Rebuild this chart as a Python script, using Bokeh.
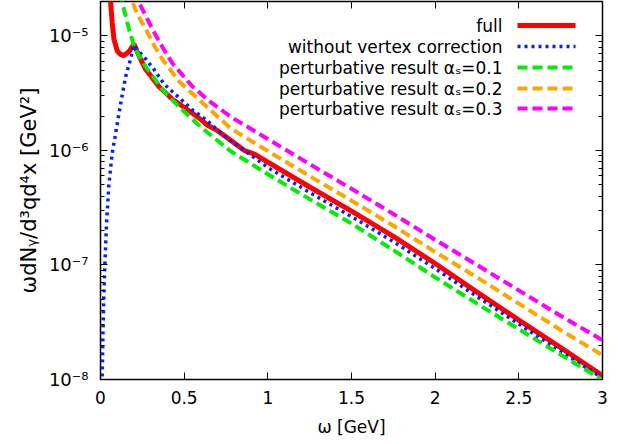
from bokeh.plotting import figure
from bokeh.models import (Range1d, FixedTicker, LogTicker, LinearAxis, LogAxis,
                          CustomJSTickFormatter, Label, Arrow)
from bokeh.embed import file_html
from bokeh.resources import INLINE

# ---- data ----
omega_full = [0.05, 0.06, 0.07, 0.08, 0.1, 0.12, 0.14, 0.17, 0.2, 0.23, 0.27, 0.3,
              0.35, 0.43, 0.54, 0.6, 0.64, 0.7, 0.78, 0.86, 0.92, 1.0, 1.25, 1.5,
              1.75, 2.0, 2.25, 2.5, 2.75, 3.0]
rate_full = [3.5e-5, 2.0e-5, 1.3e-5, 9.4e-6, 7.4e-6, 6.9e-6, 6.75e-6, 7.3e-6, 8.5e-6,
             6.7e-6, 5.1e-6, 4.5e-6, 3.6e-6, 2.8e-6, 2.17e-6, 1.86e-6, 1.66e-6, 1.49e-6,
             1.22e-6, 1.0e-6, 9.3e-7, 7.9e-7, 4.8e-7, 2.95e-7, 1.78e-7, 1.03e-7, 5.8e-8,
             3.3e-8, 1.9e-8, 1.08e-8]

omega_nv = [0.004, 0.01, 0.014, 0.02, 0.026, 0.036, 0.05, 0.07, 0.09, 0.12, 0.15, 0.18,
            0.2, 0.23, 0.27, 0.32, 0.38, 0.45, 0.55, 0.63, 0.75, 0.86, 1.0, 1.25, 1.5,
            1.75, 2.0, 2.25, 2.5, 2.75, 3.0]
rate_nv = [3e-9, 1.04e-8, 2.3e-8, 5.4e-8, 1.0e-7, 2.3e-7, 5.0e-7, 9.5e-7, 1.4e-6, 2.55e-6,
           4.4e-6, 6.3e-6, 8.3e-6, 7.3e-6, 6.3e-6, 5.1e-6, 3.8e-6, 3.07e-6, 2.26e-6,
           1.86e-6, 1.3e-6, 1.0e-6, 7.1e-7, 4.3e-7, 2.65e-7, 1.6e-7, 9.3e-8, 5.3e-8,
           3.05e-8, 1.76e-8, 1.03e-8]

omega_p1 = [0.12, 0.13, 0.15, 0.17, 0.2, 0.23, 0.27, 0.32, 0.37, 0.47, 0.6, 0.78, 1.0,
            1.25, 1.5, 1.75, 2.0, 2.25, 2.5, 2.75, 3.0]
rate_p1 = [2.4e-5, 1.95e-5, 1.5e-5, 1.15e-5, 8.2e-6, 6.7e-6, 5.4e-6, 4.3e-6, 3.4e-6,
           2.4e-6, 1.6e-6, 9.8e-7, 6.2e-7, 3.76e-7, 2.3e-7, 1.35e-7, 7.8e-8, 4.6e-8,
           2.75e-8, 1.65e-8, 9.9e-9]

omega_p2 = [0.17, 0.19, 0.22, 0.27, 0.32, 0.37, 0.47, 0.57, 0.78, 1.0, 1.25, 1.5, 1.75,
            2.0, 2.25, 2.5, 2.75, 3.0]
rate_p2 = [2.6e-5, 2.0e-5, 1.55e-5, 1.15e-5, 8.3e-6, 6.25e-6, 4.0e-6, 2.94e-6, 1.55e-6,
           9.9e-7, 5.97e-7, 3.65e-7, 2.2e-7, 1.3e-7, 7.8e-8, 4.6e-8, 2.7e-8, 1.63e-8]

omega_p3 = [0.21, 0.23, 0.27, 0.31, 0.37, 0.43, 0.55, 0.65, 0.78, 1.0, 1.25, 1.5, 1.75,
            2.0, 2.25, 2.5, 2.75, 3.0]
rate_p3 = [2.5e-5, 1.96e-5, 1.5e-5, 1.15e-5, 8.0e-6, 5.77e-6, 3.61e-6, 2.7e-6, 1.96e-6,
           1.26e-6, 7.6e-7, 4.63e-7, 2.79e-7, 1.66e-7, 1.0e-7, 6.0e-8, 3.6e-8, 2.2e-8]

x_ticks = [0, 0.5, 1, 1.5, 2, 2.5, 3]
legend_labels = ["full", "without vertex correction",
                 "perturbative result \u03b1\u209b=0.1",
                 "perturbative result \u03b1\u209b=0.2",
                 "perturbative result \u03b1\u209b=0.3"]

FONT = "DejaVu Sans"
FS = "17px"

p = figure(width=610, height=440, output_backend="svg", toolbar_location=None,
           y_axis_type="log", x_range=Range1d(0, 3), y_range=Range1d(1e-8, 2e-5),
           min_border_left=100, min_border_right=8, min_border_top=1, min_border_bottom=61)
p.grid.visible = False
p.outline_line_color = "black"
p.outline_line_width = 1.5
p.background_fill_color = "white"
p.border_fill_color = "white"

styles = [
    (omega_full, rate_full, "#ff0000", 5, "solid"),
    (omega_nv, rate_nv, "#0022ff", 3.5, "3 4"),
    (omega_p1, rate_p1, "#00ee00", 4, "10 5"),
    (omega_p2, rate_p2, "#ffa500", 4, "10 5"),
    (omega_p3, rate_p3, "#ff00ff", 4, "10 5"),
]
for xs, ys, c, w, d in styles:
    p.line(xs, ys, line_color=c, line_width=w, line_dash=d)

xfmt = CustomJSTickFormatter(code="return String(Math.round(tick*10)/10);")
yfmt = CustomJSTickFormatter(code="""
const sup = {'0':'\u2070','1':'\u00b9','2':'\u00b2','3':'\u00b3','4':'\u2074','5':'\u2075',
             '6':'\u2076','7':'\u2077','8':'\u2078','9':'\u2079','-':'\u207b'};
const e = Math.round(Math.log10(tick));
return '10' + String(e).split('').map(c => sup[c]).join('');
""")

xa = p.xaxis[0]
xa.ticker = FixedTicker(ticks=x_ticks, minor_ticks=[])
xa.formatter = xfmt
xa.axis_label = "\u03c9 [GeV]"
ya = p.yaxis[0]
ya.ticker = LogTicker(num_minor_ticks=10)
ya.formatter = yfmt
ya.axis_label = "\u03c9dN\u1d67/d\u00b3qd\u2074x [GeV\u00b2]"

for ax in (xa, ya):
    ax.axis_line_color = None
    ax.major_tick_in = 7
    ax.major_tick_out = 0
    ax.minor_tick_in = 4
    ax.minor_tick_out = 0
    ax.major_tick_line_color = "black"
    ax.minor_tick_line_color = "black"
    ax.major_label_text_font = FONT
    ax.major_label_text_font_size = FS
    ax.major_label_text_color = "black"
    ax.axis_label_text_font = FONT
    ax.axis_label_text_font_size = FS
    ax.axis_label_text_font_style = "normal"
    ax.axis_label_text_color = "black"
ya.major_label_text_font_size = "18px"
ya.axis_label_text_font_size = "21px"
xa.major_label_standoff = 11
xa.axis_label_standoff = 10
ya.major_label_standoff = 12
ya.axis_label_standoff = 5

top = LinearAxis(ticker=FixedTicker(ticks=x_ticks, minor_ticks=[]))
right = LogAxis(ticker=LogTicker(num_minor_ticks=10))
for ax in (top, right):
    ax.axis_line_color = None
    ax.major_tick_in = 7
    ax.major_tick_out = 0
    ax.minor_tick_in = 4
    ax.minor_tick_out = 0
    ax.major_tick_line_color = "black"
    ax.minor_tick_line_color = "black"
    ax.major_label_text_font_size = "1px"
    ax.major_label_text_color = None
    ax.major_label_standoff = 0
    ax.axis_label_standoff = 0
p.add_layout(top, "above")
p.add_layout(right, "right")

# legend (text right-aligned, sample to the right), frame-relative screen units
row_y = [354, 333, 312, 291, 271]
for (xs, ys, c, w, d), lab, yy in zip(styles, legend_labels, row_y):
    p.add_layout(Label(x=402, y=yy, x_units="screen", y_units="screen", text=lab,
                       text_align="right", text_baseline="middle", text_font=FONT,
                       text_font_size=FS, text_color="black"))
    p.add_layout(Arrow(x_start=417, y_start=yy, x_end=475, y_end=yy,
                       start_units="screen", end_units="screen", end=None,
                       line_color=c, line_width=w, line_dash=d))

open("out.html", "w", encoding="utf-8").write(file_html(p, INLINE))
